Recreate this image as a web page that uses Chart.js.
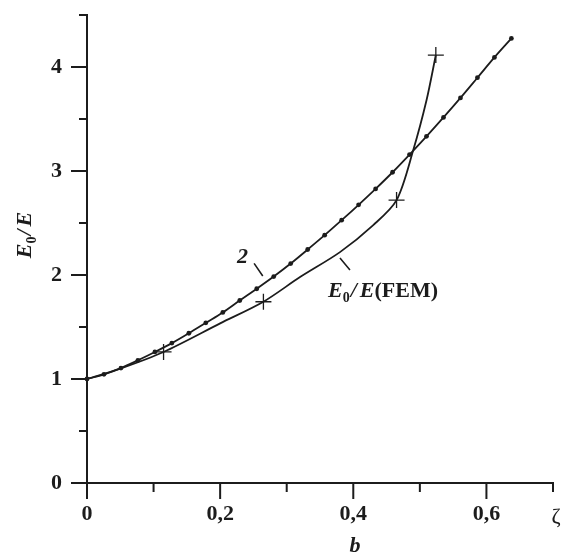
<!DOCTYPE html>
<html>
<head>
<meta charset="UTF-8">
<title>E0/E</title>
<script src="https://cdn.jsdelivr.net/npm/chart.js"></script>
<style>
  html, body { margin: 0; padding: 0; background: #fff; }
</style>
</head>
<body>
<canvas id="chart" width="566" height="558"></canvas>
<script>
  // curve 2 (line with dots)
  const zeta2 = [0, 0.0255, 0.051, 0.0765, 0.102, 0.1275, 0.153, 0.1785, 0.204, 0.2295, 0.255, 0.2805, 0.306,
    0.3315, 0.357, 0.3825, 0.408, 0.4335, 0.459, 0.4845, 0.51, 0.5355, 0.561, 0.5865, 0.612, 0.6375];
  const ratio2 = [1.00, 1.045, 1.105, 1.18, 1.26, 1.345, 1.44, 1.54, 1.64, 1.755, 1.868, 1.985, 2.11,
    2.245, 2.383, 2.527, 2.675, 2.828, 2.988, 3.158, 3.333, 3.515, 3.703, 3.897, 4.092, 4.275];

  // E0/E (FEM) curve
  const zetaFem = [0, 0.05, 0.115, 0.2, 0.265, 0.32, 0.38, 0.43, 0.465, 0.49, 0.51, 0.524];
  const ratioFem = [1.0, 1.10, 1.26, 1.535, 1.743, 1.98, 2.22, 2.48, 2.72, 3.2, 3.68, 4.115];

  // FEM computed points (crosses)
  const zetaCross = [0.115, 0.265, 0.465, 0.524];
  const ratioCross = [1.26, 1.743, 2.72, 4.115];

  const ink = '#1c1c1c';
  const serif = '"Liberation Serif", "DejaVu Serif", serif';
  const bi = 'italic bold 22px ' + serif;
  const bold = 'bold 22px ' + serif;
  const sub = 'bold 14px ' + serif;

  const pts = (xs, ys) => xs.map((x, i) => ({ x: x, y: ys[i] }));
  const isMajorX = v => Math.round(v * 10) % 2 === 0 && v < 0.65;

  function richText(ctx, parts, x, y, align) {
    let w = 0;
    parts.forEach(p => { ctx.font = p.font; w += ctx.measureText(p.t).width + (p.gap || 0); });
    let cx = align === 'center' ? x - w / 2 : x;
    parts.forEach(p => {
      ctx.font = p.font;
      ctx.fillText(p.t, cx, y + (p.dy || 0));
      cx += ctx.measureText(p.t).width + (p.gap || 0);
    });
  }
  const e0e = [
    { t: 'E', font: bi },
    { t: '0', font: sub, dy: 5, gap: 1 },
    { t: '/', font: bi, gap: 3 },
    { t: 'E', font: bi }
  ];

  const axisMarks = {
    id: 'axisMarks',
    afterDraw(chart) {
      const { ctx, scales: { x, y } } = chart;
      ctx.save();
      ctx.strokeStyle = ink;
      ctx.lineWidth = 2;
      ctx.beginPath();
      x.ticks.forEach(t => {
        const px = x.getPixelForValue(t.value);
        ctx.moveTo(px, x.top);
        ctx.lineTo(px, x.top + (isMajorX(t.value) ? 16 : 9));
      });
      y.ticks.forEach(t => {
        const py = y.getPixelForValue(t.value);
        ctx.moveTo(y.right, py);
        ctx.lineTo(y.right - (Number.isInteger(t.value) ? 16 : 8), py);
      });
      ctx.stroke();
      // leader strokes for curve labels
      ctx.beginPath();
      ctx.moveTo(x.getPixelForValue(0.251), y.getPixelForValue(2.112));
      ctx.lineTo(x.getPixelForValue(0.264), y.getPixelForValue(1.99));
      ctx.moveTo(x.getPixelForValue(0.38), y.getPixelForValue(2.163));
      ctx.lineTo(x.getPixelForValue(0.395), y.getPixelForValue(2.048));
      ctx.lineWidth = 1.6;
      ctx.stroke();

      ctx.fillStyle = ink;
      ctx.textBaseline = 'alphabetic';
      ctx.textAlign = 'left';
      // curve labels
      ctx.font = bi;
      ctx.fillText('2', x.getPixelForValue(0.2255), y.getPixelForValue(2.12));
      richText(ctx, e0e.concat([{ t: '(FEM)', font: bold }]),
        x.getPixelForValue(0.362), y.getPixelForValue(1.788), 'left');

      // axis titles
      ctx.font = bi;
      ctx.textAlign = 'center';
      ctx.fillText('b', 355, 552);
      ctx.font = '22px ' + serif;
      ctx.fillText('ζ', 556, 523);
      ctx.textAlign = 'left';
      ctx.translate(31, 235);
      ctx.rotate(-Math.PI / 2);
      richText(ctx, e0e, 0, 0, 'center');
      ctx.restore();
    }
  };

  const tickFont = { family: serif, size: 22, weight: 'bold' };

  new Chart(document.getElementById('chart'), {
    type: 'line',
    data: {
      datasets: [
        {
          label: '2',
          data: pts(zeta2, ratio2),
          borderColor: ink,
          backgroundColor: ink,
          borderWidth: 1.8,
          pointRadius: 2.4,
          pointBorderWidth: 0,
          cubicInterpolationMode: 'monotone',
          clip: false
        },
        {
          label: 'E0/E(FEM)',
          data: pts(zetaFem, ratioFem),
          borderColor: ink,
          borderWidth: 1.8,
          pointRadius: 0,
          tension: 0.3,
          clip: false
        },
        {
          label: 'FEM points',
          data: pts(zetaCross, ratioCross),
          showLine: false,
          borderColor: ink,
          borderWidth: 1.3,
          pointStyle: 'cross',
          pointRadius: 8,
          clip: false
        }
      ]
    },
    options: {
      responsive: false,
      animation: false,
      layout: { padding: { top: 15, right: 13, left: 0, bottom: 0 } },
      plugins: { legend: { display: false }, tooltip: { enabled: false } },
      scales: {
        x: {
          type: 'linear',
          min: 0,
          max: 0.7,
          afterFit: s => { s.height = 75; s.paddingLeft = 0; s.paddingRight = 0; },
          border: { color: ink, width: 2 },
          grid: { drawOnChartArea: false, drawTicks: false },
          ticks: {
            stepSize: 0.1,
            autoSkip: false,
            maxRotation: 0,
            padding: 18,
            color: ink,
            font: tickFont,
            callback: v => isMajorX(v) ? String(+v.toFixed(1)).replace('.', ',') : ''
          }
        },
        y: {
          min: 0,
          max: 4.5,
          afterFit: s => { s.width = 87; s.paddingTop = 0; s.paddingBottom = 0; },
          border: { color: ink, width: 2 },
          grid: { drawOnChartArea: false, drawTicks: false },
          ticks: {
            stepSize: 0.5,
            autoSkip: false,
            padding: 25,
            color: ink,
            font: tickFont,
            callback: v => Number.isInteger(v) ? String(v) : ''
          }
        }
      }
    },
    plugins: [axisMarks]
  });
</script>
</body>
</html>
